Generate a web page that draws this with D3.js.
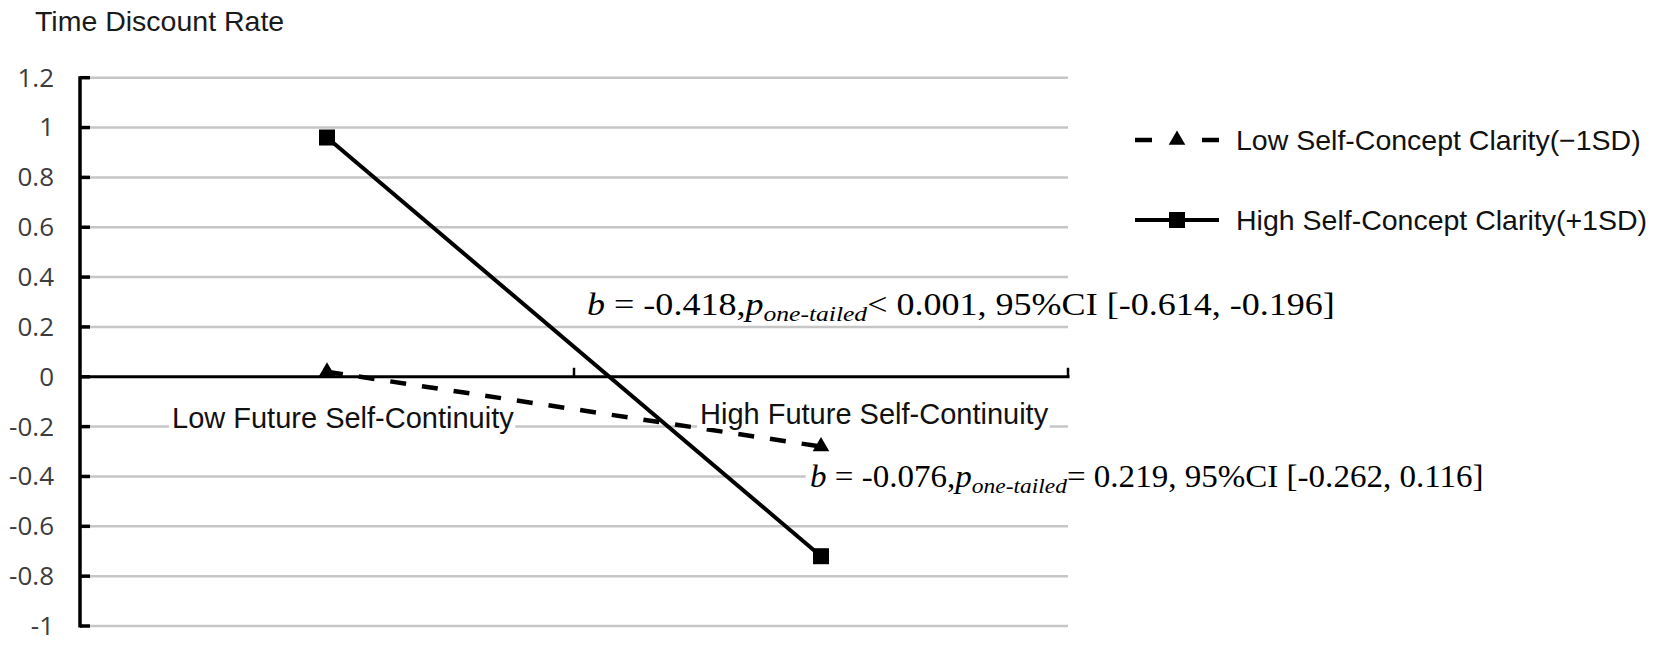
<!DOCTYPE html>
<html><head><meta charset="utf-8">
<script src="https://cdn.jsdelivr.net/npm/d3@7"></script>
<style>html,body{margin:0;padding:0;background:#fff;} svg{display:block}</style>
</head><body><svg id="c" width="1654" height="645"></svg>
<script>
// ---- data ----
const categories = ["Low Future Self-Continuity", "High Future Self-Continuity"];
const seriesNames = ["Low Self-Concept Clarity(\u22121SD)", "High Self-Concept Clarity(+1SD)"];
const lowClarity = [0.02, -0.28];
const highClarity = [0.96, -0.72];
const yTickValues = [-1, -0.8, -0.6, -0.4, -0.2, 0, 0.2, 0.4, 0.6, 0.8, 1, 1.2];
const yTickLabels = ["-1", "-0.8", "-0.6", "-0.4", "-0.2", "0", "0.2", "0.4", "0.6", "0.8", "1", "1.2"];
const yTitle = "Time Discount Rate";
const annotHigh = ["b", " = -0.418,", "p", "one-tailed", "< 0.001, 95%CI [-0.614, -0.196]"];
const annotLow = ["b", " = -0.076,", "p", "one-tailed", "= 0.219, 95%CI [-0.262, 0.116]"];

// ---- layout ----
const svg = d3.select("#c");
const X0 = 80, X1 = 1068;
const x = d3.scaleBand().domain(categories).range([X0, X1]).paddingInner(0).paddingOuter(0);
const y = d3.scaleLinear().domain([-1, 1.2]).range([626, 77.7]);
const cx = c => x(c) + x.bandwidth() / 2;
const SANS = "'Liberation Sans', Arial, sans-serif";
const SERIF = "'Liberation Serif', 'Times New Roman', serif";

// title
svg.append("text").attr("x", 35).attr("y", 31).attr("font-family", SANS).attr("font-size", 28.5)
  .attr("fill", "#1a1a1a").text(yTitle);

// gridlines
svg.append("g").selectAll("line").data(yTickValues.filter(v => v !== 0)).join("line")
  .attr("x1", X0).attr("x2", X1).attr("y1", d => y(d)).attr("y2", d => y(d))
  .attr("stroke", "#c6c6c6").attr("stroke-width", 2.5);

// y axis
svg.append("line").attr("x1", X0).attr("x2", X0).attr("y1", y(1.2) - 1.5).attr("y2", y(-1) + 1.5)
  .attr("stroke", "#000").attr("stroke-width", 3.5);
svg.append("g").selectAll("line").data(yTickValues).join("line")
  .attr("x1", X0).attr("x2", X0 + 10).attr("y1", d => y(d)).attr("y2", d => y(d))
  .attr("stroke", "#000").attr("stroke-width", 3.5);
svg.append("g").selectAll("text").data(yTickValues).join("text")
  .attr("x", 54).attr("y", d => y(d) + 2).attr("text-anchor", "end").attr("dominant-baseline", "middle")
  .attr("font-family", "'Open Sans', 'Noto Sans', sans-serif").attr("font-size", 26).attr("fill", "#3c3c3c")
  .text((d, i) => yTickLabels[i]);

// x axis (at 0)
svg.append("line").attr("x1", X0).attr("x2", X1 + 1.5).attr("y1", y(0)).attr("y2", y(0))
  .attr("stroke", "#000").attr("stroke-width", 3);
const xEdges = categories.map(c => x(c)).concat([X1]).slice(1);
svg.append("g").selectAll("line").data(xEdges).join("line")
  .attr("x1", d => d).attr("x2", d => d).attr("y1", y(0)).attr("y2", y(0) - 9)
  .attr("stroke", "#000").attr("stroke-width", 2.5);

// series lines
const line = d3.line().x((d, i) => cx(categories[i])).y(d => y(d));
svg.append("path").datum(lowClarity).attr("d", line).attr("fill", "none")
  .attr("stroke", "#000").attr("stroke-width", 4.5).attr("stroke-dasharray", "16,16");
svg.append("path").datum(highClarity).attr("d", line).attr("fill", "none")
  .attr("stroke", "#000").attr("stroke-width", 4);

// markers
const tri = d3.symbol().type(d3.symbolTriangle).size(120);
svg.append("g").selectAll("path").data(lowClarity).join("path")
  .attr("d", tri).attr("transform", (d, i) => `translate(${cx(categories[i])},${y(d)})`).attr("fill", "#000");
svg.append("g").selectAll("rect").data(highClarity).join("rect")
  .attr("x", (d, i) => cx(categories[i]) - 8).attr("y", d => y(d) - 8)
  .attr("width", 16).attr("height", 16).attr("fill", "#000");

// category labels (with white boxes)
const catDx = [-155, -121];
const catDy = [428, 424];
categories.forEach((c, i) => {
  const g = svg.append("g");
  const t = g.append("text").attr("x", cx(c) + catDx[i]).attr("y", catDy[i])
    .attr("font-family", SANS).attr("font-size", 29).attr("fill", "#111").text(c);
  const bb = t.node().getBBox();
  g.insert("rect", "text").attr("x", bb.x - 3).attr("y", bb.y + 4).attr("width", bb.width + 4)
    .attr("height", bb.height - 6).attr("fill", "#fff");
});

// annotations
function annotation(parts, x0, baseline, targetW, box) {
  const g = svg.append("g");
  const t = g.append("text").attr("x", 0).attr("y", 0).attr("font-family", SERIF)
    .attr("font-size", 31).attr("fill", "#000");
  t.append("tspan").attr("font-style", "italic").text(parts[0]);
  t.append("tspan").text(parts[1]);
  t.append("tspan").attr("font-style", "italic").text(parts[2]);
  t.append("tspan").attr("font-style", "italic").attr("font-size", 22).attr("dy", 6).text(parts[3]);
  t.append("tspan").attr("dy", -6).text(parts[4]);
  const bb = t.node().getBBox();
  const sx = targetW / bb.width;
  g.attr("transform", `translate(${x0},${baseline}) scale(${sx},1)`);
  if (box) {
    g.insert("rect", "text").attr("x", -4).attr("y", -24).attr("width", bb.width + 8).attr("height", 34).attr("fill", "#fff");
  }
}
annotation(annotHigh, 587, 315, 748, false);
annotation(annotLow, 810, 487, 674, true);

// legend
const LX = 1135, LX2 = 1219, TX = 1236;
const legY = [140, 220];
// low (dashed with triangle)
svg.append("line").attr("x1", LX).attr("x2", LX + 17).attr("y1", legY[0]).attr("y2", legY[0])
  .attr("stroke", "#000").attr("stroke-width", 4.5);
svg.append("line").attr("x1", LX2 - 17).attr("x2", LX2).attr("y1", legY[0]).attr("y2", legY[0])
  .attr("stroke", "#000").attr("stroke-width", 4.5);
svg.append("path").attr("d", tri).attr("transform", `translate(${(LX + LX2) / 2},${legY[0]})`).attr("fill", "#000");
// high (solid with square)
svg.append("line").attr("x1", LX).attr("x2", LX2).attr("y1", legY[1]).attr("y2", legY[1])
  .attr("stroke", "#000").attr("stroke-width", 4);
svg.append("rect").attr("x", (LX + LX2) / 2 - 8).attr("y", legY[1] - 8).attr("width", 16).attr("height", 16).attr("fill", "#000");
svg.append("g").selectAll("text").data(seriesNames).join("text")
  .attr("x", TX).attr("y", (d, i) => legY[i] + 10).attr("font-family", SANS).attr("font-size", 28.5)
  .attr("fill", "#111").text(d => d);
</script></body></html>
